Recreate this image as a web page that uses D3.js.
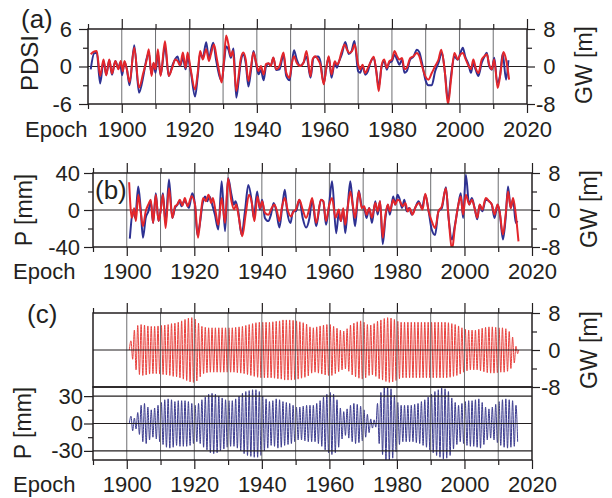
<!DOCTYPE html>
<html>
<head>
<meta charset="utf-8">
<script src="https://cdn.jsdelivr.net/npm/d3@7/dist/d3.min.js"></script>
<style>
	body { margin: 0; background: #fff; }
	svg { display: block; font-family: "Liberation Sans", Arial, sans-serif; }
</style>
</head>
<body>
<svg id="chart" width="612" height="498"></svg>
<script>
(function (){
	"use strict";

//DATA - [year, value]

// (a) PDSI (blue, left axis) and GW [m] (red, right axis)
var pdsiA = [[1890.8,-0.45],[1891.8,2.1],[1892.6,2.2],[1893.6,-2.7],[1894.6,0.9],[1895.4,-1.3],[1896.3,1.0],[1897.1,-1.3],[1898.1,0.9],[1899.0,-0.35],[1899.5,0.6],[1900.1,-1.4],[1900.8,0.7],[1901.5,-0.35],[1902.3,-3.0],[1903.7,3.4],[1905.1,-4.2],[1906.4,-1.5],[1907.2,0.9],[1908.0,2.2],[1908.8,-1.25],[1909.4,0.5],[1910.0,-1.0],[1910.7,2.1],[1911.5,-1.4],[1912.8,3.2],[1913.9,-1.5],[1915.1,0.35],[1915.8,1.15],[1916.5,1.6],[1917.3,0.1],[1918.1,1.4],[1918.9,-0.45],[1919.5,1.4],[1920.4,-0.7],[1921.7,-4.8],[1922.5,-1.5],[1923.2,2.1],[1924.0,1.4],[1925.0,3.9],[1925.8,1.15],[1926.4,2.6],[1927.1,3.8],[1927.9,1.15],[1928.9,-1.5],[1929.6,-2.3],[1930.3,0.7],[1930.9,3.2],[1931.6,2.7],[1932.3,1.4],[1933.1,2.9],[1933.9,-5.0],[1934.6,-2.3],[1935.2,0.6],[1936.0,1.9],[1936.7,0.6],[1937.5,-3.2],[1938.3,-0.45],[1939.0,2.5],[1939.8,0.35],[1940.5,-1.25],[1941.2,-0.55],[1942.0,-2.2],[1942.7,0],[1943.5,0.5],[1944.1,0.1],[1944.9,1.4],[1945.7,-0.55],[1946.7,-0.45],[1947.9,1.9],[1948.7,-1.5],[1949.7,-2.2],[1950.3,0.1],[1951.0,2.6],[1951.8,1.15],[1952.8,0.1],[1953.8,0.6],[1954.7,1.6],[1955.9,-1.8],[1956.8,1.4],[1958.1,1.6],[1958.8,0.85],[1959.8,-2.7],[1960.5,-0.5],[1961.3,1.5],[1962.1,-1.8],[1963.1,0.7],[1963.7,-0.2],[1964.2,0.6],[1965.2,2.0],[1966.2,3.9],[1967.2,2.0],[1968.0,2.4],[1968.9,4.1],[1970.0,-0.75],[1970.6,-1.0],[1971.3,0.05],[1972.1,-1.3],[1972.9,-0.75],[1973.6,0.6],[1974.6,1.4],[1975.3,-0.5],[1976.1,-3.2],[1976.9,-0.2],[1977.7,0.85],[1978.5,-0.5],[1979.2,0.6],[1980.0,0.85],[1980.8,1.9],[1981.5,1.1],[1982.2,0.3],[1983.0,1.1],[1983.7,-1.0],[1984.4,-0.75],[1985.4,1.1],[1986.4,1.6],[1987.4,2.7],[1988.1,2.3],[1988.9,0.6],[1989.9,-2.1],[1990.8,-3.0],[1991.8,-3.0],[1992.8,-0.75],[1993.8,0.6],[1994.8,2.2],[1995.8,-1.5],[1996.6,-5.5],[1997.5,-1.5],[1998.5,1.6],[1999.5,1.1],[2000.3,2.2],[2001.0,3.0],[2001.7,1.6],[2002.7,0.3],[2003.4,-1.0],[2004.1,0.6],[2004.8,-0.5],[2005.6,-1.5],[2006.6,0.6],[2007.4,1.6],[2008.1,2.2],[2008.8,0.05],[2009.6,-0.5],[2010.3,1.4],[2011.2,-2.6],[2012.0,-1.5],[2012.8,2.1],[2013.8,-2.1],[2014.5,1.0]];

var gwA = [[1890.8,2.6],[1891.6,3.1],[1892.6,3.3],[1893.6,-2.0],[1894.6,1.5],[1895.4,-1.9],[1896.3,1.5],[1897.1,-1.5],[1898.1,1.2],[1899.0,-0.6],[1899.7,1.2],[1900.3,-1.0],[1900.8,1.2],[1901.5,-0.6],[1902.3,-3.3],[1903.7,4.0],[1905.1,-4.5],[1906.4,-1.3],[1907.4,1.5],[1908.0,3.7],[1908.8,-2.0],[1909.4,0.8],[1910.0,-0.6],[1910.7,3.7],[1911.5,-2.0],[1912.8,5.4],[1913.9,-2.0],[1915.1,0.1],[1915.8,1.5],[1916.5,1.2],[1917.3,0.25],[1918.1,3.0],[1918.9,-0.25],[1919.5,3.0],[1920.4,-0.6],[1921.7,-4.9],[1922.5,-1.3],[1923.2,3.3],[1924.0,1.5],[1925.0,3.7],[1925.8,1.2],[1926.4,2.6],[1927.3,4.7],[1928.1,1.9],[1928.9,-1.3],[1929.6,-3.4],[1930.3,1.5],[1930.9,6.6],[1931.6,4.7],[1932.3,2.2],[1932.9,3.3],[1933.9,-5.2],[1934.6,-2.0],[1935.2,1.5],[1936.0,3.0],[1936.7,1.5],[1937.5,-3.1],[1938.3,0.1],[1939.0,3.0],[1939.8,0.8],[1940.5,-1.0],[1941.2,0.1],[1942.0,-1.7],[1942.7,0.5],[1943.5,0.7],[1944.1,0.1],[1944.9,1.9],[1945.7,-0.6],[1946.7,0.1],[1947.9,3.0],[1948.7,-1.3],[1949.7,-2.4],[1950.3,0.5],[1951.0,2.2],[1951.8,0.8],[1952.8,0.1],[1953.8,0.8],[1954.7,3.3],[1955.9,-2.1],[1956.5,1.5],[1957.3,2.2],[1958.1,1.5],[1958.8,0.4],[1959.8,-3.8],[1960.5,-0.6],[1961.3,2.2],[1962.1,-1.7],[1963.1,1.1],[1963.7,0.4],[1964.2,0.8],[1965.0,2.9],[1966.0,4.7],[1966.7,3.6],[1967.4,2.9],[1968.2,3.3],[1969.0,4.7],[1970.0,0.4],[1970.6,-0.6],[1971.3,0.4],[1972.1,-1.4],[1972.9,-0.3],[1973.6,0.8],[1974.6,2.1],[1975.3,-0.6],[1976.1,-5.3],[1976.9,0.1],[1977.7,1.5],[1978.5,-0.3],[1979.2,1.1],[1980.0,1.5],[1980.8,3.3],[1981.5,2.2],[1982.2,1.5],[1983.0,1.8],[1983.7,-0.6],[1984.4,-0.3],[1985.4,1.8],[1986.4,2.2],[1987.4,2.9],[1988.1,2.2],[1988.9,0.1],[1989.9,-2.1],[1990.8,-2.8],[1991.8,-1.4],[1992.8,0.1],[1993.8,1.5],[1994.6,3.6],[1995.6,-0.6],[1996.6,-8.1],[1997.5,-2.8],[1998.5,2.9],[1999.5,1.5],[2000.3,2.6],[2001.0,2.9],[2001.7,1.8],[2002.7,0.1],[2003.4,-0.6],[2004.1,1.5],[2004.8,-0.3],[2005.6,-1.4],[2006.6,1.5],[2007.4,2.2],[2008.1,2.6],[2008.8,0.4],[2009.6,-0.6],[2010.3,1.5],[2011.3,-4.6],[2012.3,-0.6],[2013.0,3.1],[2013.8,1.5],[2014.7,-2.8]];

// (b) P [mm] (blue, left axis) and GW [m] (red, right axis)
var precipB = [[1900.9,-31],[1901.9,-1.4],[1902.5,-8.6],[1903.4,25.5],[1904.1,2.2],[1904.8,-30],[1905.6,-8.6],[1906.4,-1.4],[1907.1,9.4],[1907.8,-14],[1908.6,18],[1909.4,-12],[1910.0,-1.4],[1910.7,18],[1911.5,-14],[1912.5,33],[1913.5,-8.6],[1914.3,2.2],[1915.0,5.8],[1915.5,9.4],[1916.3,4],[1916.9,9.4],[1917.6,7.6],[1918.4,2.2],[1919.4,18],[1920.2,5.8],[1920.9,-27],[1921.6,-16],[1922.4,5.8],[1923.2,14.7],[1923.8,9.4],[1924.5,14.7],[1925.3,5.8],[1926.1,-5],[1927.1,-21],[1928.1,31],[1929.1,-23],[1930.0,34.5],[1931.0,16.5],[1931.7,5.8],[1932.2,9.4],[1933.0,-1.4],[1934.0,-27],[1935.0,-1.4],[1936.0,27],[1937.0,9.4],[1937.6,-8.6],[1938.6,20],[1939.4,0.4],[1940.1,11],[1940.9,-8.6],[1941.9,-12],[1942.7,-5],[1943.5,7.6],[1944.2,0.4],[1945.2,-19],[1946.0,2.2],[1946.8,22],[1947.5,-1.4],[1948.5,-14],[1949.2,-1.4],[1950.1,-1.4],[1951.1,11],[1952.1,-8.6],[1953.1,-19],[1954.1,-8.6],[1954.9,11],[1956.1,-17.6],[1957.5,11],[1958.2,9.4],[1959.0,-16],[1959.8,2.2],[1960.8,31],[1962.0,-25],[1962.8,-3.2],[1963.4,-12],[1964.1,0.4],[1964.7,-25],[1965.4,2.2],[1966.2,31],[1966.9,5.8],[1967.6,-17.6],[1968.7,21],[1969.6,4],[1970.3,2.2],[1971.0,-8.6],[1971.8,2.2],[1972.6,-14],[1973.6,9.4],[1974.3,-5],[1975.0,9.4],[1975.8,-37],[1976.6,-8.6],[1977.3,5.8],[1977.9,-5],[1978.9,14.7],[1979.5,5.8],[1980.2,16.5],[1980.7,13],[1981.5,2.2],[1982.2,11],[1982.9,-1.4],[1983.6,2.2],[1984.4,-5],[1985.4,2.2],[1986.4,9.4],[1987.4,2.2],[1988.4,16.5],[1989.4,-1.4],[1990.3,-21],[1991.3,-27],[1992.3,-1.4],[1993.3,2.2],[1994.5,24.5],[1995.3,-8.6],[1996.3,-32],[1997.2,-16],[1998.2,5.8],[1998.9,18],[1999.6,-8.6],[2000.4,38],[2001.4,5.8],[2002.2,13],[2003.0,2.2],[2003.8,-10],[2004.5,5.8],[2005.3,-1.4],[2006.3,11],[2007.3,9.4],[2008.1,5.8],[2008.9,-8.6],[2009.8,5.8],[2010.4,-1.4],[2011.4,-32],[2012.2,-8.6],[2012.9,25.5],[2013.7,2.2],[2014.4,11],[2015.2,-14],[2015.7,-12]];

var gwB = [[1900.7,6.0],[1901.5,-1.7],[1902.2,0.4],[1902.7,-2.4],[1903.4,3.3],[1904.1,-0.3],[1904.8,-3.5],[1905.6,-0.3],[1906.4,1.2],[1907.1,2.2],[1907.8,-2.8],[1908.6,3.3],[1909.4,-2.4],[1910.0,-0.3],[1910.7,3.3],[1911.5,-3.9],[1912.5,4.7],[1913.5,-1.7],[1914.3,0.8],[1915.0,1.2],[1915.7,2.2],[1916.5,1.0],[1917.2,2.6],[1918.0,0.8],[1919.2,3.0],[1920.2,1.2],[1921.1,-6.0],[1921.9,-1.0],[1922.6,2.6],[1923.4,1.9],[1924.2,3.3],[1925.0,1.5],[1925.5,2.6],[1926.3,-0.3],[1927.1,-3.2],[1928.1,2.6],[1929.1,-2.8],[1930.0,6.8],[1931.0,1.9],[1931.8,0.1],[1932.4,1.2],[1933.2,-1.7],[1934.2,-5.7],[1935.2,-1.0],[1936.2,3.3],[1937.1,1.2],[1937.8,-2.4],[1938.7,2.9],[1939.5,0.4],[1940.1,1.9],[1940.9,-0.6],[1941.9,-1.0],[1942.9,0.4],[1943.7,1.2],[1944.5,-0.3],[1945.2,-2.4],[1946.0,0.8],[1946.8,2.6],[1947.6,0.1],[1948.6,-1.4],[1949.4,-0.3],[1950.1,0.1],[1951.1,2.2],[1952.1,0.1],[1953.1,-1.7],[1954.1,0.4],[1954.9,2.6],[1956.1,-2.8],[1957.5,2.2],[1958.2,1.9],[1959.0,-2.4],[1960.0,1.2],[1960.8,2.6],[1961.8,-1.7],[1962.8,0.1],[1963.4,-2.4],[1964.1,0.4],[1964.7,-3.2],[1965.4,0.4],[1966.2,4.0],[1966.9,1.2],[1967.6,-1.7],[1968.7,4.0],[1969.6,0.4],[1970.3,0.8],[1971.0,-1.0],[1971.8,0.4],[1972.6,-1.7],[1973.6,1.5],[1974.3,-0.3],[1975.0,1.9],[1975.8,-6.0],[1976.6,-1.0],[1977.3,1.2],[1977.9,-0.3],[1978.9,2.2],[1979.5,1.2],[1980.2,2.2],[1980.9,1.9],[1981.7,0.8],[1982.5,1.5],[1983.2,-0.3],[1983.8,0.4],[1984.6,-1.0],[1985.6,0.8],[1986.6,1.5],[1987.6,0.1],[1988.4,3.5],[1989.4,-0.3],[1990.3,-2.4],[1991.3,-3.9],[1992.3,-0.3],[1993.3,0.8],[1994.5,4.7],[1995.3,-1.7],[1996.3,-8.6],[1997.2,-3.5],[1998.2,1.2],[1998.9,2.9],[1999.6,-1.0],[2000.4,3.3],[2001.4,1.2],[2002.2,2.2],[2003.0,0.4],[2003.8,-1.7],[2004.5,1.2],[2005.3,0.1],[2006.3,2.6],[2007.3,1.9],[2008.1,1.2],[2008.9,-1.0],[2009.8,1.2],[2010.4,-0.3],[2011.4,-5.3],[2012.2,-1.0],[2012.9,4.0],[2013.7,0.4],[2014.4,2.6],[2015.2,-1.0],[2016.0,-6.8]];

// (c) annual cycle: amplitude of each year's swing, from 1901 on
var cycleStart = 1901;
var gwAmpC = [2.0,4.3,5.3,5.5,5.4,5.2,5.1,5.1,5.2,5.3,
	5.4,5.5,5.7,5.8,6.0,6.3,6.6,6.9,7.0,6.7,
	5.8,5.1,4.9,4.8,4.8,4.8,4.8,4.8,4.8,4.8,
	4.8,4.9,5.0,5.1,5.3,5.5,5.7,5.9,6.0,6.0,
	6.0,6.0,6.1,6.2,6.3,6.5,6.5,6.5,6.4,6.3,
	6.1,5.9,5.6,5.0,4.8,5.0,5.2,5.4,5.5,5.5,
	5.1,4.7,4.3,4.1,4.6,5.4,5.8,6.1,6.3,6.0,
	5.5,5.4,5.7,6.2,6.5,6.8,7.0,6.9,6.6,6.2,
	6.0,6.0,6.0,6.0,6.0,6.0,6.0,6.0,6.0,6.0,
	6.0,6.0,6.0,6.0,5.9,5.7,5.5,5.2,4.8,4.5,
	4.3,4.3,4.3,4.5,4.7,4.9,5.0,5.0,4.9,4.8,
	4.8,4.6,4.0,2.8,0.8];
var precipAmpC = [8,6,12,20,22,18,15,17,20,23,
	26,27,26,24,25,25,25,24,22,20,
	22,26,29,32,33,32,30,28,26,25,
	25,27,30,33,35,36,37,37,35,30,
	27,24,25,27,26,24,23,22,20,18,
	18,19,20,20,20,22,25,29,32,34,
	32,26,17,13,16,20,22,21,19,15,
	10,5,4,22,34,40,41,38,31,23,
	20,20,20,20,21,22,24,26,29,32,
	35,37,39,38,35,28,23,20,22,24,
	25,25,26,27,23,18,16,18,21,24,
	26,27,26,25,20];

var majorYears = d3.range(1900, 2021, 20),
	minorYears = d3.range(1890, 2021, 20),
	gridYears = d3.range(1900, 2020, 10);

var svg = d3.select("#chart");
var ink = "#231f20",
	blue = "#2e3192",
	red = "#e3262b",
	gridC = "#6d6e71";
var tickFont = 22, labelFont = 23;

function plain(d){ return String(d); }

function tidy(g, size){
	g.attr("font-family", null).attr("font-size", size);
	g.select(".domain").remove();
	g.selectAll(".tick line").attr("stroke", ink).attr("stroke-width", 1.2);
	g.selectAll(".tick text").attr("fill", ink);
}

function makeClip(id, x, y0, y1){
	svg.append("clipPath").attr("id", id).append("rect")
		.attr("x", x.range()[0]).attr("y", y0)
		.attr("width", x.range()[1] - x.range()[0]).attr("height", y1 - y0);
}

function grid(x, y0, y1){
	svg.append("g").selectAll("line").data(gridYears)
		.enter().append("line")
			.attr("x1", function(d){ return x(d); })
			.attr("x2", function(d){ return x(d); })
			.attr("y1", y0).attr("y2", y1)
			.attr("stroke", gridC).attr("stroke-width", 1);
}

function hLines(x, y, vals){
	svg.append("g").selectAll("line").data(vals)
		.enter().append("line")
			.attr("x1", x.range()[0]).attr("x2", x.range()[1])
			.attr("y1", function(d){ return y(d); })
			.attr("y2", function(d){ return y(d); })
			.attr("stroke", ink).attr("stroke-width", 1.1);
}

function frame(x, y0, y1){
	svg.append("rect")
		.attr("x", x.range()[0]).attr("y", y0)
		.attr("width", x.range()[1] - x.range()[0]).attr("height", y1 - y0)
		.attr("fill", "none").attr("stroke", ink).attr("stroke-width", 1.5);
}

function topTicks(x, y){
	svg.append("g").attr("transform", "translate(0," + y + ")")
		.call(d3.axisTop(x).tickValues(majorYears).tickSize(10).tickFormat(""))
		.call(tidy, tickFont);
	svg.append("g").attr("transform", "translate(0," + y + ")")
		.call(d3.axisTop(x).tickValues(minorYears).tickSize(5).tickFormat(""))
		.call(tidy, tickFont);
}

function bottomAxis(x, y, pad, epochX){
	svg.append("g").attr("transform", "translate(0," + y + ")")
		.call(d3.axisBottom(x).tickValues(majorYears).tickSize(9).tickPadding(pad).tickFormat(plain))
		.call(tidy, tickFont);
	svg.append("g").attr("transform", "translate(0," + y + ")")
		.call(d3.axisBottom(x).tickValues(minorYears).tickSize(5).tickFormat(""))
		.call(tidy, tickFont);
	svg.append("text")
		.attr("x", epochX).attr("y", y + 9 + pad).attr("dy", "0.71em")
		.attr("font-size", tickFont).attr("fill", ink)
		.text("Epoch");
}

function leftAxis(x, y, major, minor, pad){
	svg.append("g").attr("transform", "translate(" + x + ",0)")
		.call(d3.axisLeft(y).tickValues(major).tickSize(9).tickPadding(pad).tickFormat(plain))
		.call(tidy, tickFont);
	svg.append("g").attr("transform", "translate(" + x + ",0)")
		.call(d3.axisLeft(y).tickValues(minor).tickSize(5).tickFormat(""))
		.call(tidy, tickFont);
}

function rightAxis(x, y, major, minor){
	svg.append("g").attr("transform", "translate(" + x + ",0)")
		.call(d3.axisRight(y).tickValues(major).tickSize(8).tickFormat(plain))
		.call(tidy, tickFont)
		.call(function(g){
			g.selectAll(".tick text").attr("x", 28.5).attr("text-anchor", "end");
		});
	svg.append("g").attr("transform", "translate(" + x + ",0)")
		.call(d3.axisRight(y).tickValues(minor).tickSize(5).tickFormat(""))
		.call(tidy, tickFont);
}

function vLabel(text, x, y, size){
	svg.append("text")
		.attr("transform", "translate(" + x + "," + y + ") rotate(-90)")
		.attr("text-anchor", "middle").attr("font-size", size).attr("fill", ink)
		.text(text);
}

function panelTag(text, x, y){
	svg.append("text").attr("x", x).attr("y", y)
		.attr("font-size", 26).attr("fill", ink).text(text);
}

function series(x, y, data, color, clipId, width){
	var line = d3.line()
		.x(function(d){ return x(d[0]); })
		.y(function(d){ return y(d[1]); })
		.curve(d3.curveMonotoneX);
	svg.append("path").datum(data)
		.attr("clip-path", "url(#" + clipId + ")")
		.attr("d", line)
		.attr("fill", "none").attr("stroke", color)
		.attr("stroke-width", width).attr("stroke-linejoin", "round");
}

// one swing up and one down per year, from the read amplitudes
function cycles(amps, closeEnd){
	var pts = [[cycleStart - 0.25, 0]];
	amps.forEach(function(a, i){
		pts.push([cycleStart + i + 0.25, a]);
		pts.push([cycleStart + i + 0.75, -a]);
	});
	if (closeEnd) pts.push([cycleStart + amps.length, 0]);
	return pts;
}

//PANEL A
var xA = d3.scaleLinear().domain([1890, 2020]).range([88, 527]),
	yA = d3.scaleLinear().domain([-6, 6]).range([104, 29]),
	yA2 = d3.scaleLinear().domain([-8, 8]).range([104, 29]);

makeClip("clipA", xA, 29, 104);
grid(xA, 29, 104);
hLines(xA, yA, [0]);
series(xA, yA, pdsiA, blue, "clipA", 2);
series(xA, yA2, gwA, red, "clipA", 2);
frame(xA, 29, 104);
topTicks(xA, 29);
bottomAxis(xA, 104, 8.7, 25);
leftAxis(88, yA, [-6, 0, 6], [-3, 3], 7);
rightAxis(527, yA2, [-8, 0, 8], [-4, 4]);
vLabel("PDSI", 38, 63, 24);
vLabel("GW [m]", 592, 65, labelFont);
panelTag("(a)", 21, 28);

//PANEL B
var xB = d3.scaleLinear().domain([1890, 2020]).range([93, 532]),
	yB = d3.scaleLinear().domain([-40, 40]).range([247, 173]),
	yB2 = d3.scaleLinear().domain([-8, 8]).range([247, 173]);

makeClip("clipB", xB, 173, 247);
grid(xB, 173, 247);
hLines(xB, yB, [0]);
series(xB, yB, precipB, blue, "clipB", 2);
series(xB, yB2, gwB, red, "clipB", 2);
frame(xB, 173, 247);
topTicks(xB, 173);
bottomAxis(xB, 247, 7, 13);
leftAxis(93, yB, [-40, 0, 40], [-20, 20], 4);
rightAxis(532, yB2, [-8, 0, 8], [-4, 4]);
vLabel("P [mm]", 32, 210, labelFont);
vLabel("GW [m]", 597, 209, labelFont);
panelTag("(b)", 95, 199);

//PANEL C
var xC = d3.scaleLinear().domain([1890, 2020]).range([93, 532]),
	yC = d3.scaleLinear().domain([-8, 8]).range([387, 313]),
	yC2 = d3.scaleLinear().domain([-40, 40]).range([460, 387]);

makeClip("clipC1", xC, 313, 387);
makeClip("clipC2", xC, 387, 460);
series(xC, yC, cycles(gwAmpC, true), "#e8403c", "clipC1", 1);
series(xC, yC2, cycles(precipAmpC, false), "#3b3b8e", "clipC2", 1);
grid(xC, 313, 460);
hLines(xC, yC, [0]);
hLines(xC, yC2, [-30, 0, 30]);
frame(xC, 313, 387);
frame(xC, 387, 460);
topTicks(xC, 313);
bottomAxis(xC, 460, 7.7, 13);
rightAxis(532, yC, [-8, 0, 8], [-4, 4]);
leftAxis(93, yC2, [-30, 0, 30], [-15, 15], 1);
vLabel("GW [m]", 597, 350, labelFont);
vLabel("P [mm]", 31, 423, labelFont);
panelTag("(c)", 27, 323);

})();
</script>
</body>
</html>
